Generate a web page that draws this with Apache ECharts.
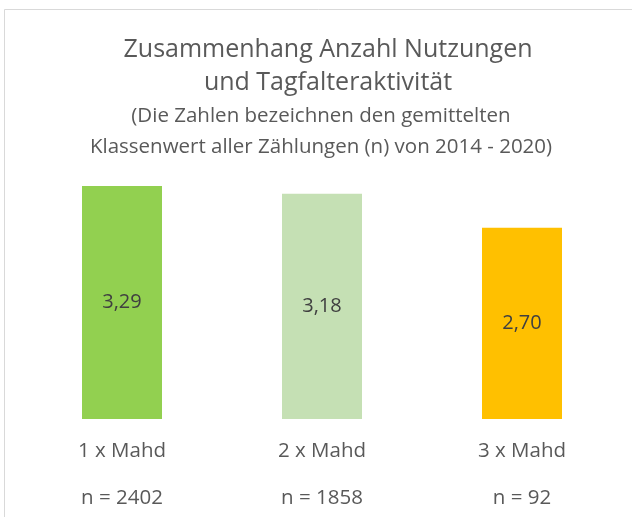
<!DOCTYPE html>
<html>
<head>
<meta charset="utf-8">
<script src="https://cdn.jsdelivr.net/npm/echarts@6/dist/echarts.min.js"></script>
<style>
  html, body { margin: 0; padding: 0; background: #fff; }
  #chart { width: 632px; height: 517px; }
</style>
</head>
<body>
<div id="chart"></div>
<script>
// Daten
var categories = ['1 x Mahd', '2 x Mahd', '3 x Mahd'];
var counts = ['n = 2402', 'n = 1858', 'n = 92'];
var values = [3.29, 3.18, 2.70];
var barColors = ['#92D050', '#C5E0B4', '#FFC000'];

var myChart = echarts.init(document.getElementById('chart'));

var font = 'Open Sans';

var option = {
    backgroundColor: '#fff',
    textStyle: { fontFamily: font },
    graphic: [
        {
            type: 'rect',
            shape: { x: 4.5, y: 9.5, width: 640, height: 520 },
            style: { fill: 'none', stroke: '#D9D9D9', lineWidth: 1 },
            silent: true
        }
    ],
    title: [
        {
            text: 'Zusammenhang Anzahl Nutzungen\nund Tagfalteraktivität',
            left: 323,
            textAlign: 'center',
            top: 28,
            textStyle: { fontFamily: font, fontSize: 25, fontWeight: 'normal', color: '#595959', lineHeight: 33 }
        },
        {
            text: '(Die Zahlen bezeichnen den gemittelten\nKlassenwert aller Zählungen (n) von 2014 - 2020)',
            left: 316,
            textAlign: 'center',
            top: 96,
            textStyle: { fontFamily: font, fontSize: 20.5, fontWeight: 'normal', color: '#595959', lineHeight: 31 }
        }
    ],
    grid: { left: 22, right: 10, top: 186, bottom: 98, containLabel: false, outerBoundsMode: 'none' },
    xAxis: {
        type: 'category',
        data: categories,
        axisLine: { show: false },
        axisTick: { show: false },
        axisLabel: {
            margin: 9,
            fontFamily: font,
            fontSize: 20.5,
            color: '#595959',
            lineHeight: 47,
            formatter: function (v, i) { return v + '\n' + counts[i]; }
        }
    },
    yAxis: {
        type: 'value',
        min: 0,
        max: 3.29,
        show: false,
        splitLine: { show: false }
    },
    series: [
        {
            type: 'bar',
            barWidth: 80,
            data: values.map(function (v, i) {
                return { value: v, itemStyle: { color: barColors[i] } };
            }),
            label: {
                show: true,
                position: 'inside',
                fontFamily: font,
                fontSize: 20,
                color: '#404040',
                formatter: function (p) { return p.value.toFixed(2).replace('.', ','); }
            }
        }
    ]
};

myChart.setOption(option);
</script>
</body>
</html>
